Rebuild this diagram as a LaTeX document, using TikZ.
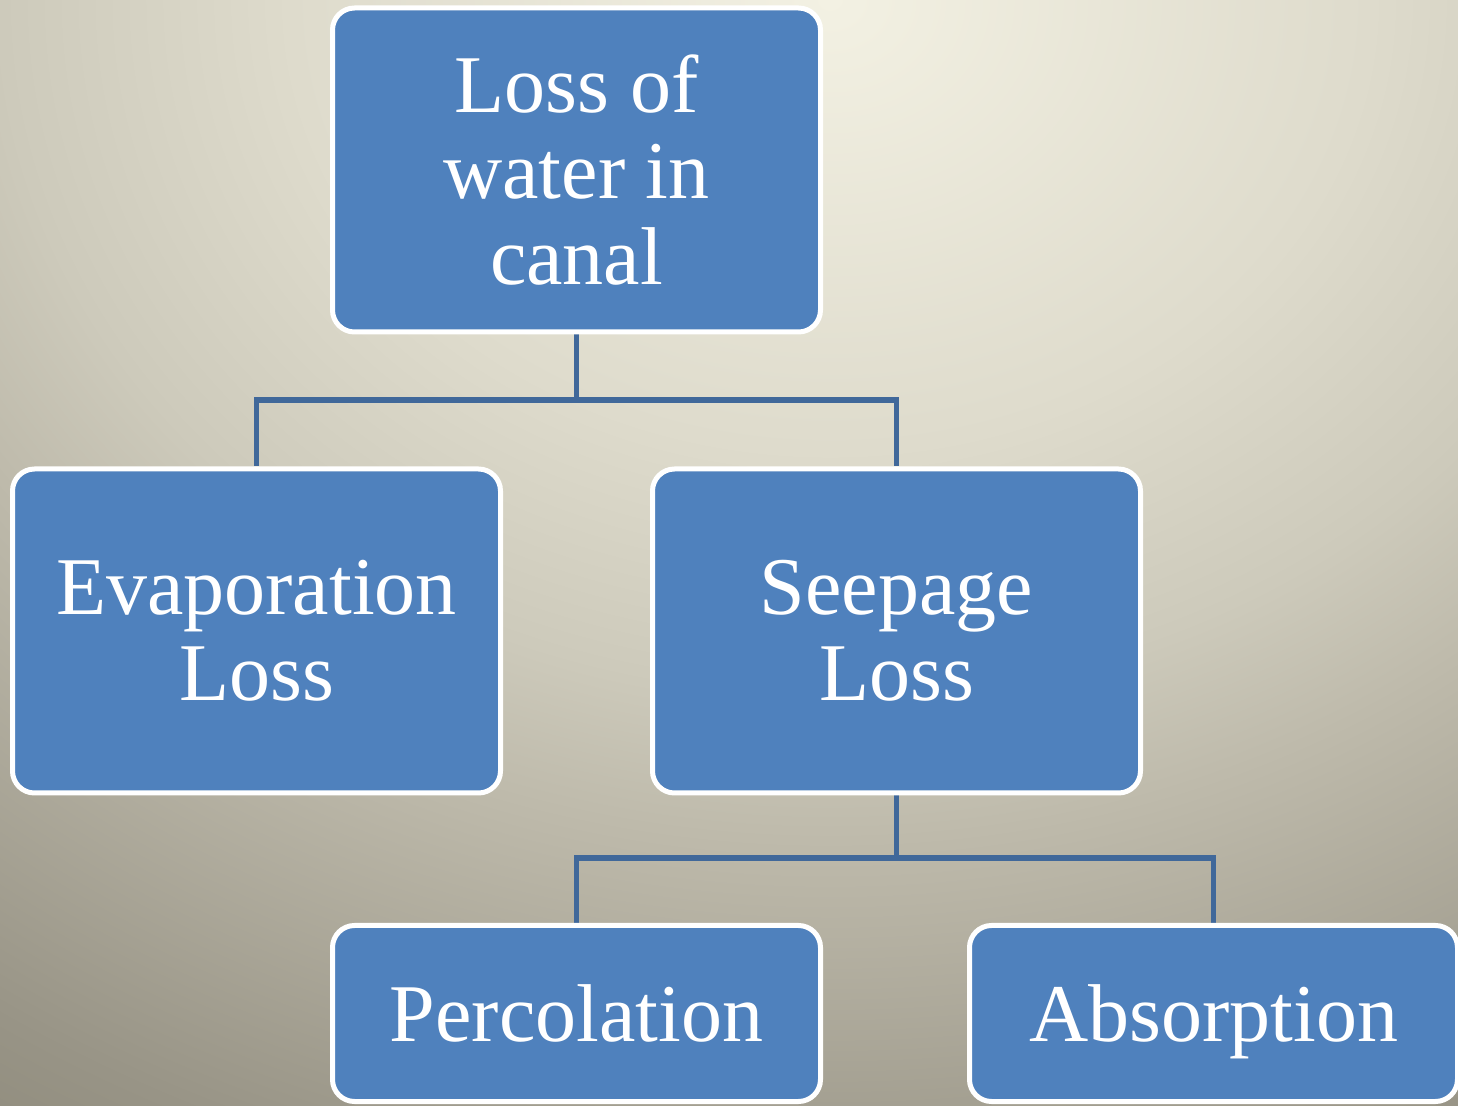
\documentclass[tikz,border=0pt]{standalone}
\usepackage{fontspec}
\setmainfont{Liberation Serif}
\usepackage{tikz}
\usetikzlibrary{
  positioning,
  backgrounds
}
\definecolor{BoxBlue}{RGB}{79,129,189}
\definecolor{LinkBlue}{RGB}{64,104,154}
\definecolor{GlowA}{RGB}{243,241,227}
\definecolor{GlowB}{RGB}{222,219,204}
\definecolor{GlowC}{RGB}{205,202,187}
\definecolor{GlowD}{RGB}{190,186,171}
\definecolor{GlowE}{RGB}{152,148,134}
\definecolor{GlowF}{RGB}{144,140,125}
\pgfdeclareradialshading{canalglow}{\pgfpoint{0bp}{0bp}}{%
  color(0bp)=(GlowA); color(7.5bp)=(GlowB); color(11.5bp)=(GlowC);
  color(14bp)=(GlowD); color(20.5bp)=(GlowE); color(22.5bp)=(GlowF);
  color(50bp)=(GlowF)}
\tikzset{
  lossbox/.style={draw=white,fill=BoxBlue,line width=2.5pt,rounded corners=11pt,minimum height=162pt,minimum width=244pt,inner sep=0pt,align=center,text=white,font=\fontsize{41}{43}\selectfont},
  leafbox/.style={lossbox,minimum height=88pt,text depth=0pt},
  treelink/.style={draw=LinkBlue,line width=2.75pt}
}

\begin{document}
\begin{tikzpicture}[x=0.5pt,y=-0.5pt]
\useasboundingbox (0,0) rectangle (1458,1106);
\begin{pgfonlayer}{background}
\begin{scope}
\clip (0,0) rectangle (1458,1106);
\shade[shading=canalglow] (-970,-1500) rectangle (2630,1500);
\end{scope}
\end{pgfonlayer}

\node[lossbox] (top) at (576.5,170) {Loss of\\water in\\canal};
\node[lossbox] (evap) at (256.5,631) {Evaporation\\Loss};
\node[lossbox, right=73.5pt of evap] (seep) {Seepage\\Loss};
\node[leafbox] (perc) at (576.5,1013.5) {Percolation};
\node[leafbox, right=72pt of perc] (absorb) {Absorption};

\coordinate (split1) at (top.south |- 0,400);
\coordinate (split2) at (seep.south |- 0,858);

\begin{pgfonlayer}{background}
\draw[treelink] (top.south) -- (split1) -| (evap.north);
\draw[treelink] (split1) -| (seep.north);
\draw[treelink] (seep.south) -- (split2) -| (perc.north);
\draw[treelink] (split2) -| (absorb.north);
\end{pgfonlayer}
\end{tikzpicture}
\end{document}
